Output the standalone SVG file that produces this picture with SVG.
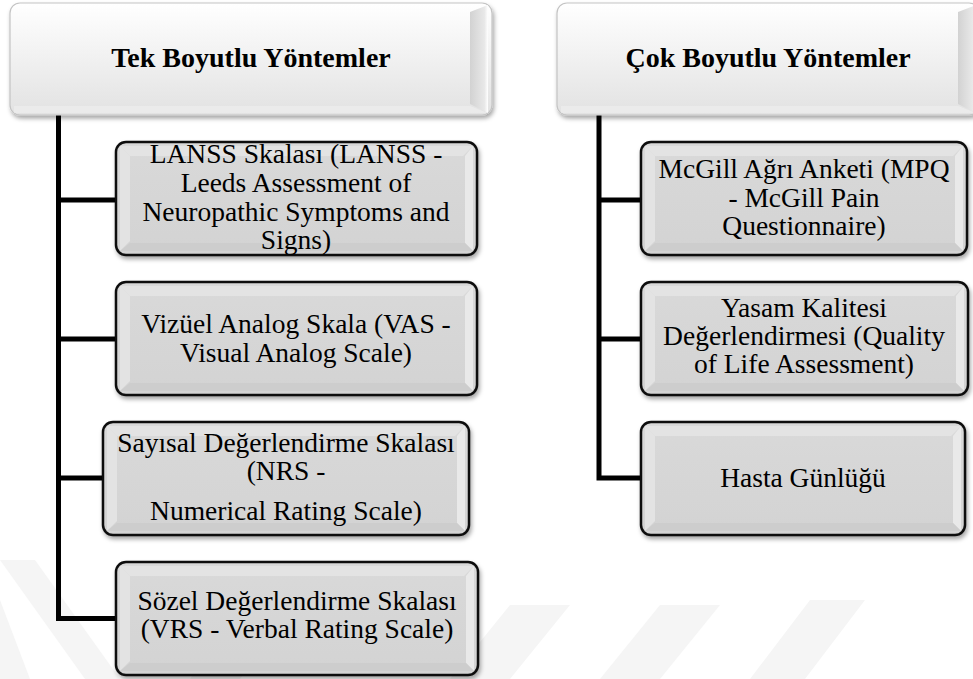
<svg xmlns="http://www.w3.org/2000/svg" width="973" height="679" viewBox="0 0 973 679">
<defs>
<filter id="sh" x="-10%" y="-10%" width="120%" height="130%">
<feDropShadow dx="1.5" dy="3" stdDeviation="2" flood-color="#000" flood-opacity="0.35"/>
</filter>
<linearGradient id="hg" x1="0" y1="0" x2="0" y2="1">
<stop offset="0" stop-color="#ffffff"/>
<stop offset="1" stop-color="#e2e2e2"/>
</linearGradient>
<linearGradient id="hr" x1="0" y1="0" x2="1" y2="0">
<stop offset="0" stop-color="#d2d2d2"/>
<stop offset="0.8" stop-color="#e8e8e8"/>
<stop offset="1" stop-color="#ffffff"/>
</linearGradient>
<linearGradient id="bg" x1="0" y1="0" x2="0" y2="1">
<stop offset="0" stop-color="#d9d9d9"/>
<stop offset="1" stop-color="#d3d3d3"/>
</linearGradient>
</defs>
<style>
.hd{fill:url(#hg);stroke:#c4c4c4;stroke-width:1.2;filter:url(#sh)}
.hdt{font-family:"Liberation Serif","Times New Roman",serif;font-weight:bold;font-size:28px;fill:#000;text-anchor:middle}
.bx{fill:url(#bg);stroke:#111;stroke-width:2.5;filter:url(#sh)}
.bt{font-family:"Liberation Serif","Times New Roman",serif;font-size:27.5px;fill:#000;text-anchor:middle}
.lt{fill:#e3e3e3}
.dk{fill:#cdcdcd}
.rl{fill:#e9e9e9}
.hb{fill:#eeeeee;opacity:0.7}
.cn{fill:none;stroke:#000;stroke-width:5;stroke-linejoin:miter}
.wm{fill:#f5f5f5}
</style>

<g id="watermark">
<polygon class="wm" points="0,560 35,560 120,679 85,679"/>
<polygon class="wm" points="0,600 0,679 30,679"/>
<polygon class="wm" points="250,600 300,600 240,679 190,679"/>
<polygon class="wm" points="510,605 570,605 510,679 450,679"/>
<polygon class="wm" points="660,605 720,605 660,679 600,679"/>
<polygon class="wm" points="810,600 865,600 805,679 750,679"/>
</g>

<g id="connectors">
<path class="cn" d="M58.5,112 V618.5 H118"/>
<path class="cn" d="M58.5,200 H118"/>
<path class="cn" d="M58.5,339 H118"/>
<path class="cn" d="M58.5,478 H105"/>
<path class="cn" d="M599,112 V478 H643"/>
<path class="cn" d="M599,200 H643"/>
<path class="cn" d="M599,339 H643"/>
</g>

<g id="header1">
<rect class="hd" x="10" y="3" width="482" height="112" rx="10"/>
<polygon points="470,12 488,5 488,113 470,104" fill="url(#hr)"/>
<polygon class="hb" points="14,106 470,106 488,113 14,113"/>
<text class="hdt" x="251" y="67">Tek Boyutlu Yöntemler</text>
</g>

<g id="header2">
<rect class="hd" x="557" y="3" width="422" height="112" rx="10"/>
<polygon points="958,12 976,5 976,113 958,104" fill="url(#hr)"/>
<polygon class="hb" points="561,106 958,106 976,113 561,113"/>
<text class="hdt" x="768" y="67">Çok Boyutlu Yöntemler</text>
</g>

<g id="n-lanss">
<rect class="bx" x="116" y="142" width="361" height="113" rx="10"/>
<polygon class="lt" points="120,146 473,146 463,156 130,156"/>
<polygon class="lt" points="120,146 130,156 130,241 120,251"/>
<polygon class="rl" points="473,146 473,251 465,243 465,156"/>
<polygon class="dk" points="120,251 130,243 465,243 473,251"/>
<text class="bt" x="296" y="163">LANSS Skalası (LANSS -</text>
<text class="bt" x="296" y="192">Leeds Assessment of</text>
<text class="bt" x="296" y="221">Neuropathic Symptoms and</text>
<text class="bt" x="296" y="249">Signs)</text>
</g>

<g id="n-vas">
<rect class="bx" x="116" y="282" width="361" height="113" rx="10"/>
<polygon class="lt" points="120,286 473,286 463,296 130,296"/>
<polygon class="lt" points="120,286 130,296 130,381 120,391"/>
<polygon class="rl" points="473,286 473,391 465,383 465,296"/>
<polygon class="dk" points="120,391 130,383 465,383 473,391"/>
<text class="bt" x="296" y="333">Vizüel Analog Skala (VAS -</text>
<text class="bt" x="296" y="362">Visual Analog Scale)</text>
</g>

<g id="n-nrs">
<rect class="bx" x="103" y="422" width="366" height="113" rx="10"/>
<polygon class="lt" points="107,426 465,426 455,436 117,436"/>
<polygon class="lt" points="107,426 117,436 117,521 107,531"/>
<polygon class="rl" points="465,426 465,531 457,523 457,436"/>
<polygon class="dk" points="107,531 117,523 457,523 465,531"/>
<text class="bt" x="286" y="452">Sayısal Değerlendirme Skalası</text>
<text class="bt" x="286" y="480">(NRS -</text>
<text class="bt" x="286" y="520">Numerical Rating Scale)</text>
</g>

<g id="n-vrs">
<rect class="bx" x="116" y="562" width="362" height="113" rx="10"/>
<polygon class="lt" points="120,566 474,566 464,576 130,576"/>
<polygon class="lt" points="120,566 130,576 130,661 120,671"/>
<polygon class="rl" points="474,566 474,671 466,663 466,576"/>
<polygon class="dk" points="120,671 130,663 466,663 474,671"/>
<text class="bt" x="297" y="610">Sözel Değerlendirme Skalası</text>
<text class="bt" x="297" y="638">(VRS - Verbal Rating Scale)</text>
</g>

<g id="n-mcgill">
<rect class="bx" x="641" y="142" width="326" height="113" rx="10"/>
<polygon class="lt" points="645,146 963,146 953,156 655,156"/>
<polygon class="lt" points="645,146 655,156 655,241 645,251"/>
<polygon class="rl" points="963,146 963,251 955,243 955,156"/>
<polygon class="dk" points="645,251 655,243 955,243 963,251"/>
<text class="bt" x="804" y="178">McGill Ağrı Anketi (MPQ</text>
<text class="bt" x="804" y="207">- McGill Pain</text>
<text class="bt" x="804" y="235">Questionnaire)</text>
</g>

<g id="n-yasam">
<rect class="bx" x="641" y="282" width="327" height="113" rx="10"/>
<polygon class="lt" points="645,286 964,286 954,296 655,296"/>
<polygon class="lt" points="645,286 655,296 655,381 645,391"/>
<polygon class="rl" points="964,286 964,391 956,383 956,296"/>
<polygon class="dk" points="645,391 655,383 956,383 964,391"/>
<text class="bt" x="804" y="317">Yasam Kalitesi</text>
<text class="bt" x="804" y="345">Değerlendirmesi (Quality</text>
<text class="bt" x="804" y="373">of Life Assessment)</text>
</g>

<g id="n-hasta">
<rect class="bx" x="641" y="422" width="324" height="113" rx="10"/>
<polygon class="lt" points="645,426 961,426 951,436 655,436"/>
<polygon class="lt" points="645,426 655,436 655,521 645,531"/>
<polygon class="rl" points="961,426 961,531 953,523 953,436"/>
<polygon class="dk" points="645,531 655,523 953,523 961,531"/>
<text class="bt" x="803" y="487">Hasta Günlüğü</text>
</g>
</svg>
